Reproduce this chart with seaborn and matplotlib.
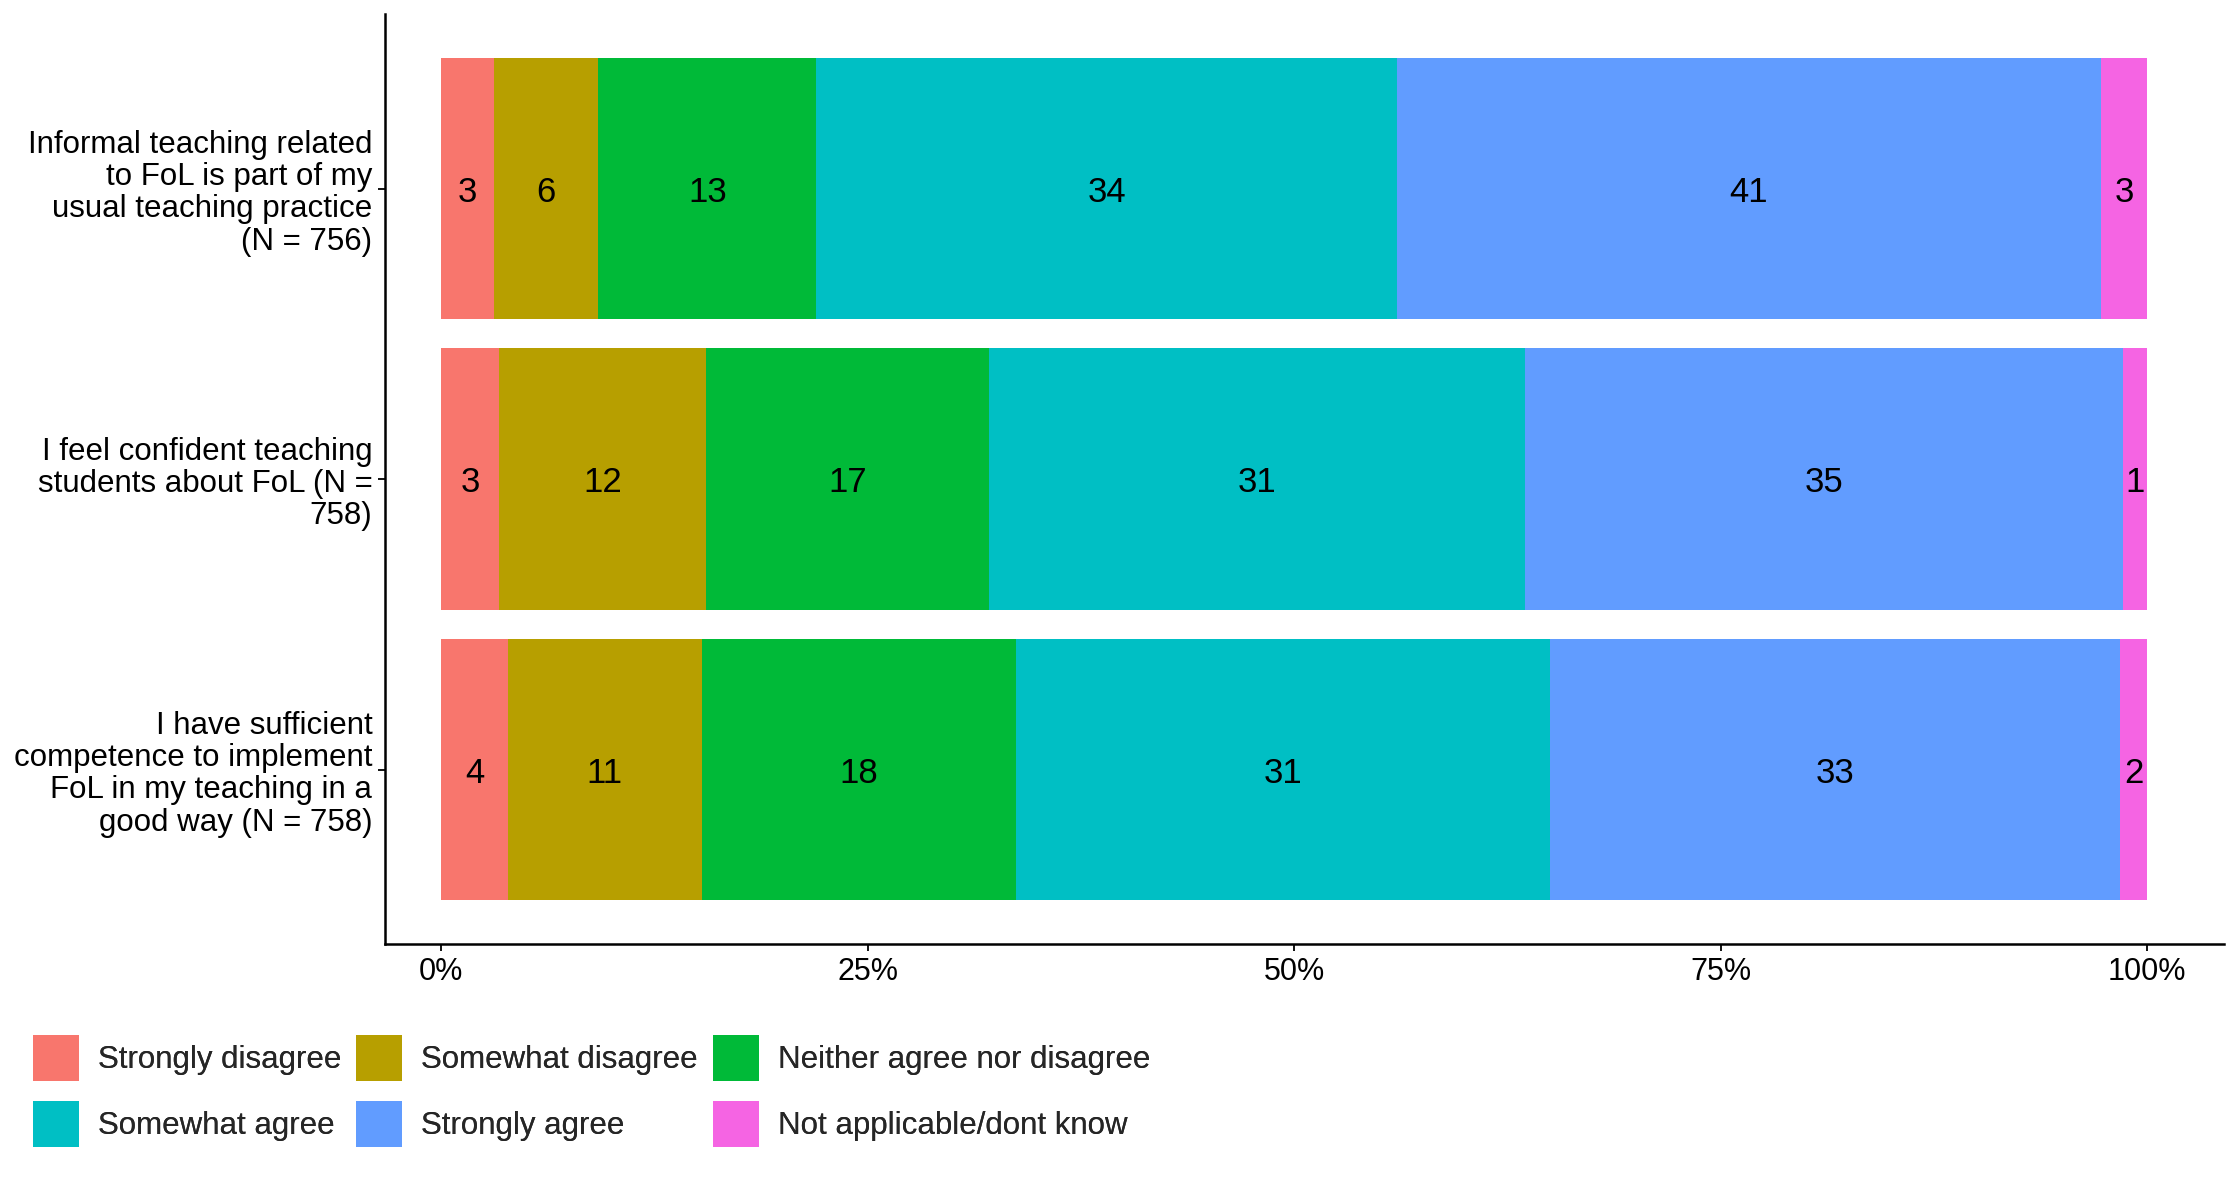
import numpy as np
import pandas as pd
import matplotlib
matplotlib.use("Agg")
import matplotlib.pyplot as plt
import seaborn as sns
from matplotlib.patches import Patch

# survey statements (y axis)
items = [
    "Informal teaching related\nto FoL is part of my\nusual teaching practice\n(N = 756)",
    "I feel confident teaching\nstudents about FoL (N =\n758)",
    "I have sufficient\ncompetence to implement\nFoL in my teaching in a\ngood way (N = 758)",
]

# answer categories, in stacking order
categories = ["Strongly disagree", "Somewhat disagree", "Neither agree nor disagree",
              "Somewhat agree", "Strongly agree", "Not applicable/dont know"]

# percentages per item
strongly_disagree = [3.1, 3.4, 3.9]
somewhat_disagree = [6.1, 12.1, 11.4]
neither = [12.8, 16.6, 18.4]
somewhat_agree = [34.0, 31.4, 31.3]
strongly_agree = [41.3, 35.1, 33.4]
not_applicable = [2.7, 1.4, 1.6]

colors = ["#F8766D", "#B79F00", "#00BA38", "#00BFC4", "#619CFF", "#F564E3"]

series = [strongly_disagree, somewhat_disagree, neither, somewhat_agree, strongly_agree, not_applicable]

# long table with cumulative ends for stacking
rows = []
for cat, vals in zip(categories, series):
    for item, v in zip(items, vals):
        rows.append({"item": item, "answer": cat, "pct": v})
df = pd.DataFrame(rows)
df["answer"] = pd.Categorical(df["answer"], categories=categories, ordered=True)
df = df.sort_values(["item", "answer"])
df["end"] = df.groupby("item", sort=False)["pct"].cumsum()
df["mid"] = df["end"] - df["pct"] / 2

sns.set_style("white")
plt.rcParams["font.family"] = ["Liberation Sans", "DejaVu Sans"]

fig = plt.figure(figsize=(22.4, 11.8), dpi=100)
ax = fig.add_axes([0.1718, 0.2000, 0.8211, 0.7878])

# draw from the longest cumulative bar down so each segment shows
for cat, col in reversed(list(zip(categories, colors))):
    sub = df[df["answer"] == cat]
    sns.barplot(data=sub, x="end", y="item", order=items, color=col, saturation=1,
                width=0.9, errorbar=None, orient="h", ax=ax, linewidth=0)

# value labels
for _, r in df.iterrows():
    ax.text(r["mid"], items.index(r["item"]), str(int(round(r["pct"]))),
            ha="center", va="center_baseline", fontsize=25, color="black")

ax.set_xlim(-3.3, 104.5)
ax.set_ylim(2.6, -0.6)
ax.set_xticks([0, 25, 50, 75, 100])
ax.set_xticklabels(["0%", "25%", "50%", "75%", "100%"])
ax.set_xlabel("")
ax.set_ylabel("")

for s in ["top", "right"]:
    ax.spines[s].set_visible(False)
for s in ["left", "bottom"]:
    ax.spines[s].set_linewidth(1.8)
    ax.spines[s].set_color("black")

ax.tick_params(axis="both", which="major", length=5, width=1.3, color="black",
               labelsize=22, labelcolor="black", pad=4, left=True, bottom=True)
for lab in ax.get_yticklabels():
    lab.set_linespacing(1.1)
    lab.set_ha("right")
    lab.set_fontsize(22.5)

# legend: 2 rows x 3 columns, one small legend per column
col_x = [0.0147, 0.1589, 0.3183]
col_entries = [[0, 3], [1, 4], [2, 5]]
for x0, idx in zip(col_x, col_entries):
    handles = [Patch(facecolor=colors[i], edgecolor="none", label=categories[i]) for i in idx]
    leg = fig.legend(handles=handles, ncol=1, loc="upper left", bbox_to_anchor=(x0, 0.1229),
                     frameon=False, fontsize=22.5, handlelength=1.47, handleheight=1.9,
                     handletextpad=0.6, labelspacing=0.64, borderpad=0, borderaxespad=0)
    fig.add_artist(leg)

fig.savefig("out.png", dpi=100)
